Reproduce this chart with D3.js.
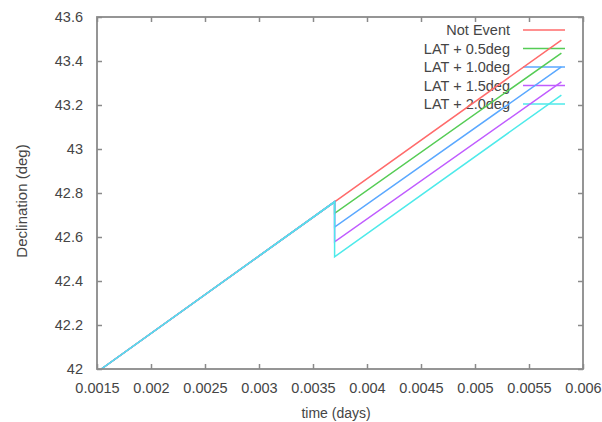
<!DOCTYPE html>
<html>
<head>
<meta charset="utf-8">
<script src="https://cdn.jsdelivr.net/npm/d3@7"></script>
<style>
  html, body { margin: 0; padding: 0; background: #fff; }
  svg { display: block; font-family: "Liberation Sans", Arial, sans-serif; }
</style>
</head>
<body>
<svg id="chart" width="602" height="422"></svg>
<script>
// Series names and colours
const seriesNames = ["Not Event", "LAT + 0.5deg", "LAT + 1.0deg", "LAT + 1.5deg", "LAT + 2.0deg"];
const seriesColors = ["#ff6b6b", "#55cc55", "#5aa8ff", "#c05cff", "#4eeaea"];

// Shared track before the event (time in days, declination in deg)
const preTimes = [0.00154, 0.0037];
const preDec = [42.0, 42.76];

// Track after the event, one start/end value per series
const postTimes = [0.0037, 0.0058];
const postStartDec = [42.76, 42.708, 42.645, 42.578, 42.51];
const postEndDec = [43.495, 43.436, 43.373, 43.305, 43.245];

// Axis ticks
const xTicks = [0.0015, 0.002, 0.0025, 0.003, 0.0035, 0.004, 0.0045, 0.005, 0.0055, 0.006];
const xTickLabels = ["0.0015", "0.002", "0.0025", "0.003", "0.0035", "0.004", "0.0045", "0.005", "0.0055", "0.006"];
const yTicks = [42, 42.2, 42.4, 42.6, 42.8, 43, 43.2, 43.4, 43.6];
const yTickLabels = ["42", "42.2", "42.4", "42.6", "42.8", "43", "43.2", "43.4", "43.6"];

const W = 602, H = 422;
const margin = { left: 97, top: 17, right: 19, bottom: 53 };
const iw = W - margin.left - margin.right;
const ih = H - margin.top - margin.bottom;

const svg = d3.select("#chart");
const g = svg.append("g").attr("transform", `translate(${margin.left},${margin.top})`);

const x = d3.scaleLinear().domain([0.0015, 0.006]).range([0, iw]);
const y = d3.scaleLinear().domain([42, 43.6]).range([ih, 0]);

const textColor = "#454545";
const frameColor = "#8a8a8a";
const tickLen = 5;

// Axes with inward ticks, mirrored on top and right
const xAxis = d3.axisBottom(x).tickValues(xTicks)
  .tickFormat((d, i) => xTickLabels[i]).tickSizeInner(-tickLen).tickSizeOuter(0).tickPadding(14);
const yAxis = d3.axisLeft(y).tickValues(yTicks)
  .tickFormat((d, i) => yTickLabels[i]).tickSizeInner(-tickLen).tickSizeOuter(0).tickPadding(14);
const xAxisTop = d3.axisTop(x).tickValues(xTicks).tickFormat("").tickSizeInner(-tickLen).tickSizeOuter(0);
const yAxisRight = d3.axisRight(y).tickValues(yTicks).tickFormat("").tickSizeInner(-tickLen).tickSizeOuter(0);

function styleAxis(sel) {
  sel.select(".domain").remove();
  sel.selectAll(".tick line").attr("stroke", frameColor).attr("stroke-width", 1.5);
  sel.selectAll(".tick text").attr("fill", textColor).style("font-size", "14.5px");
}

g.append("g").attr("transform", `translate(0,${ih})`).call(xAxis).call(styleAxis);
g.append("g").call(yAxis).call(styleAxis);
g.append("g").call(xAxisTop).call(styleAxis);
g.append("g").attr("transform", `translate(${iw},0)`).call(yAxisRight).call(styleAxis);

// Legend
const legend = g.append("g");
const legendTextX = 510 - margin.left;
const legendLineX0 = 523 - margin.left, legendLineX1 = 565 - margin.left;
const legendY0 = 30 - margin.top, legendStep = 18.5;
seriesNames.forEach((name, i) => {
  const ly = legendY0 + i * legendStep;
  legend.append("text")
    .attr("x", legendTextX).attr("y", ly)
    .attr("text-anchor", "end").attr("dominant-baseline", "central")
    .attr("fill", textColor).style("font-size", "14.5px")
    .text(name);
  legend.append("line")
    .attr("x1", legendLineX0).attr("x2", legendLineX1)
    .attr("y1", ly).attr("y2", ly)
    .attr("stroke", seriesColors[i]).attr("stroke-width", 1.6);
});

// Series lines: shared track, vertical drop at the event, then the shifted track
const line = d3.line().x(d => x(d[0])).y(d => y(d[1]));
seriesNames.forEach((name, i) => {
  const pts = [
    [preTimes[0], preDec[0]],
    [preTimes[1], preDec[1]],
    [postTimes[0], postStartDec[i]],
    [postTimes[1], postEndDec[i]]
  ];
  g.append("path")
    .datum(pts)
    .attr("d", line)
    .attr("fill", "none")
    .attr("stroke", seriesColors[i])
    .attr("stroke-width", 1.5)
    .attr("stroke-linejoin", "miter");
});

// Frame
g.append("rect")
  .attr("x", 0).attr("y", 0).attr("width", iw).attr("height", ih)
  .attr("fill", "none").attr("stroke", frameColor).attr("stroke-width", 1.8);

// Axis titles
svg.append("text")
  .attr("x", 336).attr("y", 413)
  .attr("text-anchor", "middle").attr("dominant-baseline", "central")
  .attr("fill", textColor).style("font-size", "14px")
  .text("time (days)");

svg.append("text")
  .attr("transform", "translate(21,201) rotate(-90)")
  .attr("text-anchor", "middle").attr("dominant-baseline", "central")
  .attr("fill", textColor).style("font-size", "15px")
  .text("Declination (deg)");
</script>
</body>
</html>
